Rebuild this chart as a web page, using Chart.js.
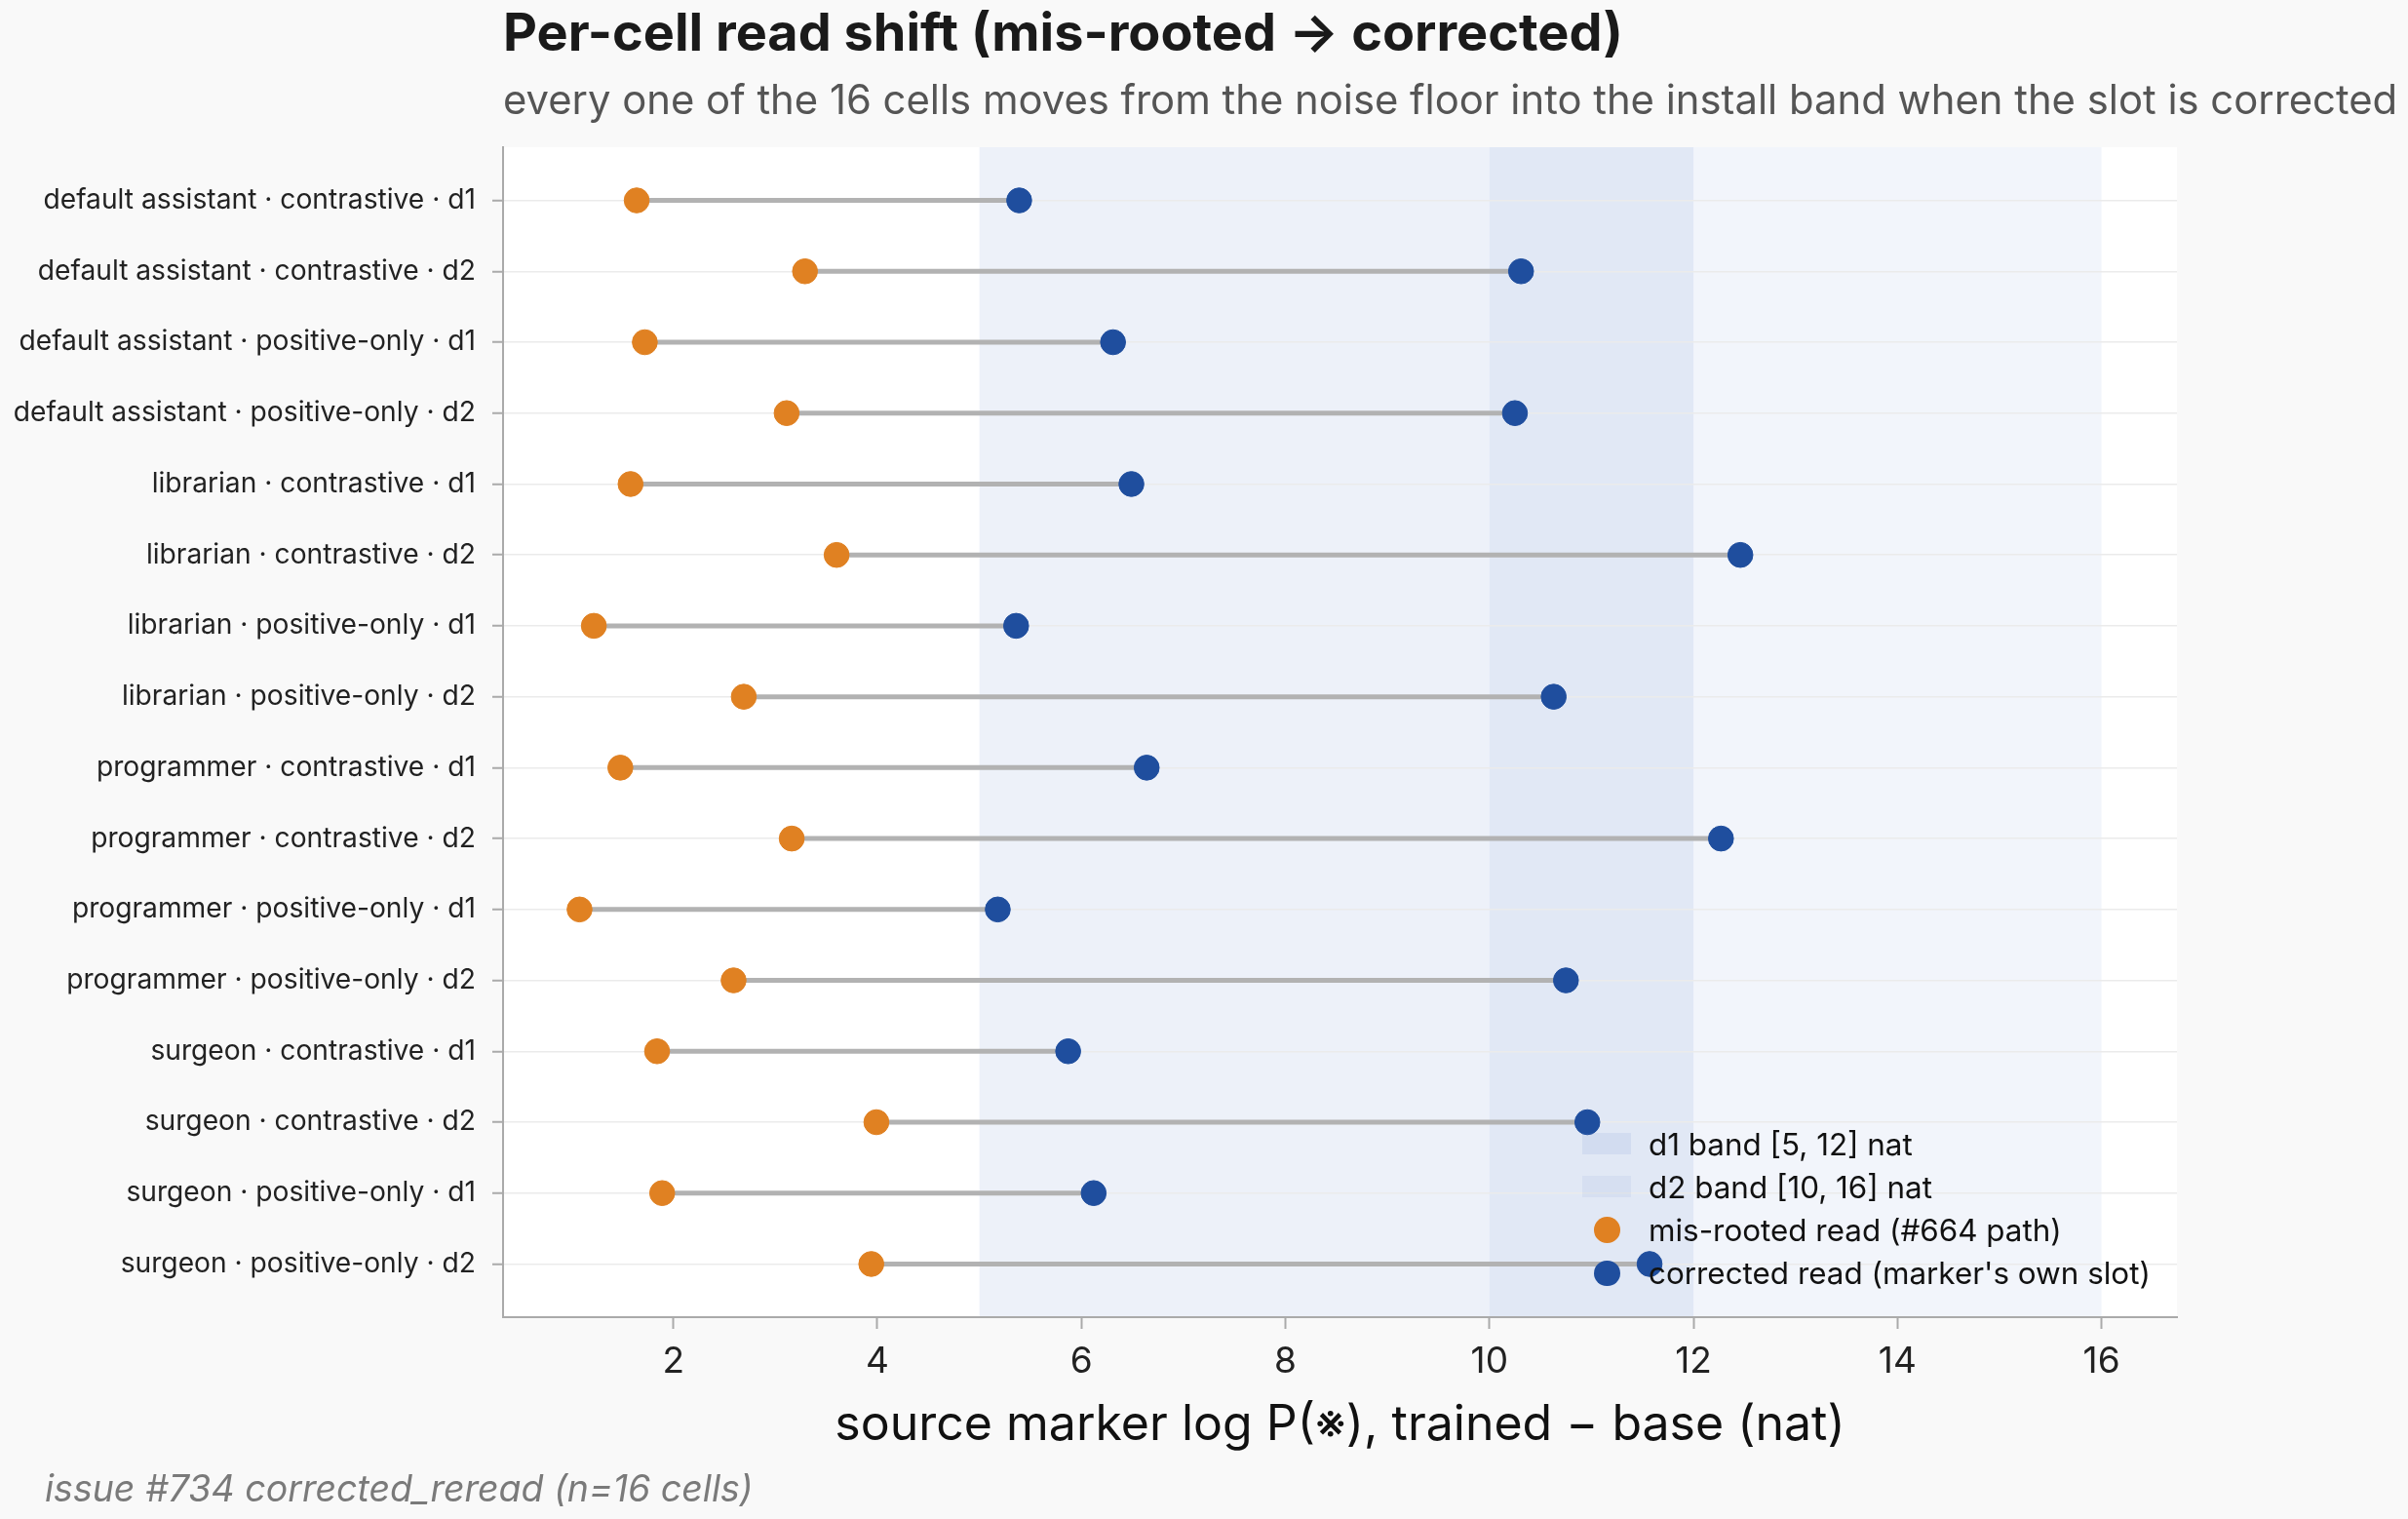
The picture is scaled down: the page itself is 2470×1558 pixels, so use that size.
<!DOCTYPE html>
<html>
<head>
<meta charset="utf-8">
<script src="https://cdn.jsdelivr.net/npm/chart.js@4.4.1/dist/chart.umd.min.js"></script>
<style>
  html, body { margin: 0; padding: 0; background: #f9f9f9; }
  #wrap { position: relative; width: 2470px; height: 1558px; font-family: Inter, "Noto Sans", sans-serif; overflow: hidden; }
  #c { position: absolute; left: 0; top: 0; }
  .t { position: absolute; white-space: nowrap; line-height: 1; }
  #title { left: 516px; top: 6px; font-size: 54px; font-weight: 700; color: #1a1a1a; }
  #subtitle { left: 516px; top: 82px; font-size: 41.8px; color: #555555; }
  #foot { left: 46px; top: 1508px; font-size: 37.5px; font-style: italic; color: #7a7a7a; }
  .lg { position: absolute; font-size: 31.4px; line-height: 1; color: #111; white-space: nowrap; }
  .sw { position: absolute; }
</style>
</head>
<body>
<div id="wrap">
  <canvas id="c" width="2470" height="1558"></canvas>
  <div class="t" id="title">Per-cell read shift (mis-rooted → corrected)</div>
  <div class="t" id="subtitle">every one of the 16 cells moves from the noise floor into the install band when the slot is corrected</div>
  <div class="t" id="foot">issue #734 corrected_reread (n=16 cells)</div>
  <div id="legend"></div>
</div>
<script>
// ---- data ----
const cells = [
  "default assistant · contrastive · d1",
  "default assistant · contrastive · d2",
  "default assistant · positive-only · d1",
  "default assistant · positive-only · d2",
  "librarian · contrastive · d1",
  "librarian · contrastive · d2",
  "librarian · positive-only · d1",
  "librarian · positive-only · d2",
  "programmer · contrastive · d1",
  "programmer · contrastive · d2",
  "programmer · positive-only · d1",
  "programmer · positive-only · d2",
  "surgeon · contrastive · d1",
  "surgeon · contrastive · d2",
  "surgeon · positive-only · d1",
  "surgeon · positive-only · d2"
];
const misRooted = [1.64, 3.29, 1.72, 3.11, 1.58, 3.60, 1.22, 2.69, 1.48, 3.16, 1.08, 2.59, 1.84, 3.99, 1.89, 3.94];
const corrected = [5.39, 10.31, 6.31, 10.25, 6.49, 12.46, 5.36, 10.63, 6.64, 12.27, 5.18, 10.75, 5.87, 10.96, 6.12, 11.57];
const xTicks = [2, 4, 6, 8, 10, 12, 14, 16];
const d1Band = [5, 12];
const d2Band = [10, 16];
const legendLabels = ["d1 band [5, 12] nat", "d2 band [10, 16] nat", "mis-rooted read (#664 path)", "corrected read (marker's own slot)"];

// ---- styles ----
const ORANGE = "#e08122";
const BLUE = "#1f4e9e";
const D1_FILL = "rgba(76,114,196,0.10)";
const D2_FILL = "rgba(76,114,196,0.07)";
const AXIS = "#aaaaaa";

const connector = [];
cells.forEach((_, i) => {
  connector.push({ x: misRooted[i], y: i }, { x: corrected[i], y: i }, { x: null, y: null });
});

const bandPlugin = {
  id: "bands",
  beforeDraw(chart) {
    const { ctx, chartArea: a, scales: { x } } = chart;
    ctx.save();
    ctx.fillStyle = "#ffffff";
    ctx.fillRect(a.left, a.top, a.right - a.left, a.bottom - a.top);
    [[d1Band, D1_FILL], [d2Band, D2_FILL]].forEach(([b, col]) => {
      const x0 = x.getPixelForValue(b[0]);
      const x1 = x.getPixelForValue(b[1]);
      ctx.fillStyle = col;
      ctx.fillRect(x0, a.top, x1 - x0, a.bottom - a.top);
    });
    ctx.restore();
  }
};

new Chart(document.getElementById("c"), {
  type: "scatter",
  data: {
    datasets: [
      {
        label: "connector",
        type: "line",
        data: connector,
        borderColor: "#b2b2b2",
        borderWidth: 5,
        pointRadius: 0,
        spanGaps: false,
        order: 2
      },
      {
        label: legendLabels[2],
        data: misRooted.map((v, i) => ({ x: v, y: i })),
        backgroundColor: ORANGE,
        borderColor: ORANGE,
        borderWidth: 1,
        pointRadius: 12.8,
        order: 1
      },
      {
        label: legendLabels[3],
        data: corrected.map((v, i) => ({ x: v, y: i })),
        backgroundColor: BLUE,
        borderColor: BLUE,
        borderWidth: 1,
        pointRadius: 12.8,
        order: 0
      }
    ]
  },
  options: {
    responsive: false,
    animation: false,
    devicePixelRatio: 1,
    layout: { padding: { top: 151, right: 237, bottom: 0, left: 0 } },
    plugins: { legend: { display: false }, tooltip: { enabled: false }, title: { display: false } },
    scales: {
      x: {
        type: "linear",
        position: "bottom",
        min: 0.33,
        max: 16.74,
        afterBuildTicks: s => { s.ticks = xTicks.map(v => ({ value: v })); },
        afterFit: s => { s.height = 207; },
        ticks: { font: { family: "Inter", size: 37 }, color: "#222", padding: 12, maxRotation: 0, autoSkip: false },
        grid: { drawOnChartArea: false, drawTicks: true, tickLength: 12, tickColor: AXIS, tickWidth: 2 },
        border: { color: AXIS, width: 2 },
        title: {
          display: true,
          text: "source marker log P(※), trained − base (nat)",
          font: { family: "Inter", size: 50 },
          color: "#111",
          padding: { top: 0, bottom: 66 }
        }
      },
      y: {
        type: "linear",
        reverse: true,
        min: -0.75,
        max: 15.75,
        afterBuildTicks: s => { s.ticks = cells.map((_, i) => ({ value: i })); },
        afterFit: s => { s.width = 516; },
        ticks: {
          font: { family: "Inter", size: 28.2 },
          color: "#222",
          padding: 17,
          autoSkip: false,
          callback: v => cells[v]
        },
        grid: { color: "#ebebeb", lineWidth: 1.5, drawTicks: true, tickLength: 11, tickColor: AXIS, tickWidth: 2 },
        border: { color: AXIS, width: 2 }
      }
    }
  },
  plugins: [bandPlugin]
});

// ---- legend (HTML, inside plot area, lower right) ----
const lg = document.getElementById("legend");
const rowBaselines = [1185.7, 1229.9, 1274.1, 1318.3];
const handles = [
  { kind: "patch", color: D1_FILL },
  { kind: "patch", color: D2_FILL },
  { kind: "dot", color: ORANGE },
  { kind: "dot", color: BLUE }
];
legendLabels.forEach((txt, i) => {
  const fs = 31.4;
  const b = rowBaselines[i];
  const cy = b - 12.5;
  const h = handles[i];
  const sw = document.createElement("div");
  sw.className = "sw";
  if (h.kind === "patch") {
    Object.assign(sw.style, { left: "1623px", top: (cy - 11) + "px", width: "50px", height: "22px", background: h.color });
  } else {
    Object.assign(sw.style, { left: (1648.3 - 13.3) + "px", top: (cy - 13.3) + "px", width: "26.6px", height: "26.6px", borderRadius: "50%", background: h.color });
  }
  lg.appendChild(sw);
  const d = document.createElement("div");
  d.className = "lg";
  d.textContent = txt;
  d.style.left = "1691px";
  d.style.top = (b - 0.864 * fs) + "px";
  lg.appendChild(d);
});
</script>
</body>
</html>
